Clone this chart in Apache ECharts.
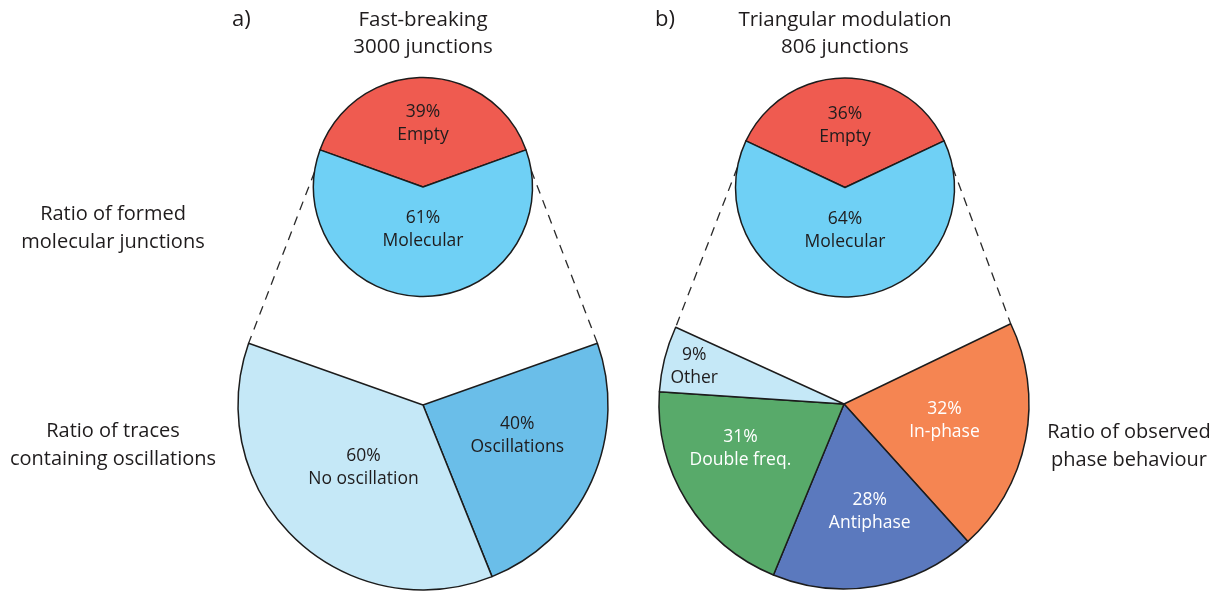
<!DOCTYPE html>
<html>
<head>
<meta charset="utf-8">
<script src="https://cdn.jsdelivr.net/npm/echarts@6/dist/echarts.min.js"></script>
<style>
  html, body { margin: 0; padding: 0; background: #fff; }
  #chart { width: 1222px; height: 593px; }
</style>
</head>
<body>
<div id="chart"></div>
<script>
// ---- data ----
const fastTopNames = ['Empty', 'Molecular'];
const fastTopValues = [39, 61];
const fastBottomNames = ['Oscillations', 'No oscillation'];
const fastBottomValues = [40, 60];

const triTopNames = ['Empty', 'Molecular'];
const triTopValues = [36, 64];
const triBottomNames = ['In-phase', 'Antiphase', 'Double freq.', 'Other'];
const triBottomValues = [32, 28, 31, 9];

const panelTitles = [['a)', 'Fast-breaking', '3000 junctions'], ['b)', 'Triangular modulation', '806 junctions']];
const sideTexts = ['Ratio of formed\nmolecular junctions', 'Ratio of traces\ncontaining oscillations', 'Ratio of observed\nphase behaviour'];

// ---- layout & style ----
const FONT = '"Open Sans", "Noto Sans", sans-serif';
const INK = '#1f1c1d';
const topGeomA = { cx: 423, cy: 187, r: 109.5 };
const topGeomB = { cx: 845, cy: 187.5, r: 109.5 };
const botGeomA = { cx: 423, cy: 405, r: 185, start: 19.5, end: -199.5 };
const botGeomB = { cx: 844, cy: 404, r: 185, start: 25.7, end: -204.5 };

const topColors = ['#ef5b50', '#6fd0f5'];
const fastBottomColors = ['#6abee9', '#c5e8f7'];
const triBottomColors = ['#f58552', '#5b79be', '#58aa6a', '#c5e8f7'];
const fastBottomTextColors = [INK, INK];
const triBottomTextColors = ['#fff', '#fff', '#fff', INK];

function withTopAngles(g, values) {
  const total = values.reduce((s, v) => s + v, 0);
  const half = 360 * values[0] / total / 2;
  return Object.assign({}, g, { start: 90 + half, end: 90 + half - 360 });
}
const topA = withTopAngles(topGeomA, fastTopValues);
const topB = withTopAngles(topGeomB, triTopValues);

// label anchor: radial fraction and angular nudge (deg) for each slice
function labelPlacer(g, values, fracs, shifts) {
  const total = values.reduce((s, v) => s + v, 0);
  const span = g.start - g.end;
  return function (p) {
    const i = p.dataIndex;
    let a = g.start;
    for (let k = 0; k < i; k++) a -= span * values[k] / total;
    const mid = a - span * values[i] / total / 2 + (shifts[i] || 0);
    const rad = mid * Math.PI / 180;
    return { x: g.cx + fracs[i] * g.r * Math.cos(rad), y: g.cy - fracs[i] * g.r * Math.sin(rad) };
  };
}

function pieSeries(g, names, values, colors, textColors, fracs, shifts) {
  return {
    type: 'pie',
    silent: true,
    center: [g.cx, g.cy],
    radius: [0, g.r],
    startAngle: g.start,
    endAngle: g.end,
    clockwise: true,
    avoidLabelOverlap: false,
    animation: false,
    itemStyle: { borderColor: '#1c1c1c', borderWidth: 1.5 },
    label: {
      show: true,
      position: 'inside',
      formatter: '{c}%\n{b}',
      fontFamily: FONT,
      fontSize: 17.5,
      lineHeight: 23,
      align: 'center',
      verticalAlign: 'middle'
    },
    labelLine: { show: false },
    labelLayout: labelPlacer(g, values, fracs, shifts),
    data: names.map((n, i) => ({
      name: n,
      value: values[i],
      itemStyle: { color: colors[i] },
      label: { color: textColors[i] }
    }))
  };
}

// dashed connectors from the upper pie to the open ends of the lower pie
function connector(top, topAngle, bot, botAngle) {
  const t = topAngle * Math.PI / 180, b = botAngle * Math.PI / 180;
  return {
    type: 'line',
    silent: true,
    shape: {
      x1: top.cx + top.r * Math.cos(t), y1: top.cy - top.r * Math.sin(t),
      x2: bot.cx + bot.r * Math.cos(b), y2: bot.cy - bot.r * Math.sin(b)
    },
    style: { stroke: '#2a2a2a', lineWidth: 1.3, lineDash: [9, 7] }
  };
}

function text(x, y, str, size, align) {
  return {
    type: 'text', silent: true, x: x, y: y,
    style: {
      text: str, fontFamily: FONT, fontSize: size, fill: INK,
      align: align || 'center', verticalAlign: 'middle', lineHeight: 28
    }
  };
}

const chart = echarts.init(document.getElementById('chart'), null, { renderer: 'canvas' });
chart.setOption({
  backgroundColor: '#fff',
  animation: false,
  graphic: [
    connector(topA, 172, botGeomA, 180 - botGeomA.start),
    connector(topA, 8.8, botGeomA, botGeomA.start),
    connector(topB, 169.5, botGeomB, botGeomB.end + 360),
    connector(topB, 10.5, botGeomB, botGeomB.start),
    text(232, 20, panelTitles[0][0], 22, 'left'),
    text(423, 20, panelTitles[0][1], 20.5),
    text(423, 47, panelTitles[0][2], 20.5),
    text(655, 20, panelTitles[1][0], 22, 'left'),
    text(845, 20, panelTitles[1][1], 20.5),
    text(845, 47, panelTitles[1][2], 20.5),
    text(113, 228, sideTexts[0], 20),
    text(113, 445, sideTexts[1], 20),
    text(1129, 446, sideTexts[2], 20)
  ],
  series: [
    pieSeries(topA, fastTopNames, fastTopValues, topColors, [INK, INK], [0.58, 0.385], [0, 0]),
    pieSeries(botGeomA, fastBottomNames, fastBottomValues, fastBottomColors, fastBottomTextColors, [0.535, 0.465], [6.6, 0]),
    pieSeries(topB, triTopNames, triTopValues, topColors, [INK, INK], [0.57, 0.39], [0, 0]),
    pieSeries(botGeomB, triBottomNames, triBottomValues, triBottomColors, triBottomTextColors, [0.55, 0.60, 0.61, 0.835], [2, 3.6, -8.5, 0])
  ]
});
</script>
</body>
</html>
